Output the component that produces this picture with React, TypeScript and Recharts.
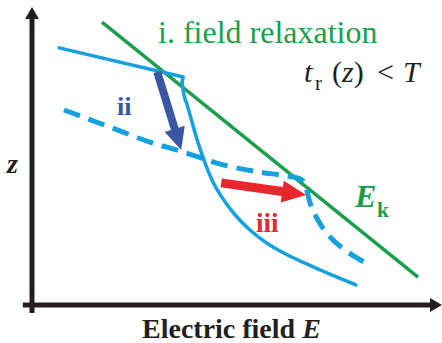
import { ComposedChart, Line, XAxis, YAxis, ReferenceLine } from 'recharts';

// units: E along x (0..10), z along y (0..10)
const GREEN = '#1a9f4b';
const BLUE = '#15a1dd';
const DARK_BLUE = '#3c56a6';
const RED = '#e8262d';
const BLACK = '#231f20';
const SERIF = '"Liberation Serif", "Times New Roman", serif';

// E_k line
const ekE = [1.75, 9.65];
const ekZ = [9.43, 0.93];

// solid profile: flat upper part with the small hook, then the relaxed drop
const upperE = [0.68, 3.78, 3.75];
const upperZ = [8.57, 7.6, 7.43];
const lowerE = [3.75, 3.8, 3.88, 4.0, 4.13, 4.3, 4.5, 4.78, 5.08, 5.45, 5.83, 6.2, 7.03, 8.1];
const lowerZ = [7.43, 7.0, 6.67, 6.1, 5.5, 4.83, 4.17, 3.53, 3.0, 2.5, 2.1, 1.8, 1.27, 0.67];

// dashed profile
const dashE = [0.8, 1.95, 2.95, 3.78, 4.78, 5.7, 6.38, 6.65, 6.78, 6.85, 6.93, 7.15, 7.45, 7.83, 8.3];
const dashZ = [6.5, 5.93, 5.43, 5.1, 4.67, 4.43, 4.3, 4.23, 4.13, 3.93, 3.5, 2.83, 2.27, 1.83, 1.43];

// arrows [tailE, tailZ, tipE, tipZ]
const arrowII = [3.13, 7.77, 3.73, 5.17];
const arrowIII = [4.73, 4.07, 6.85, 3.67];
const axisX = [-0.23, 0, 10.25, 0];
const axisY = [0, -0.27, 0, 9.93];

const zip = (es: number[], zs: number[]) => es.map((e, i) => ({ e, z: zs[i] }));

function arrowShape(color: string, shaft: number, headLen: number, headW: number) {
  return (p: any) => {
    const { x1, y1, x2, y2 } = p;
    const dx = x2 - x1;
    const dy = y2 - y1;
    const len = Math.hypot(dx, dy) || 1;
    const ux = dx / len;
    const uy = dy / len;
    const nx = -uy;
    const ny = ux;
    const bx = x2 - ux * headLen;
    const by = y2 - uy * headLen;
    const pts = [
      [x1 + (nx * shaft) / 2, y1 + (ny * shaft) / 2],
      [bx + (nx * shaft) / 2, by + (ny * shaft) / 2],
      [bx + (nx * headW) / 2, by + (ny * headW) / 2],
      [x2, y2],
      [bx - (nx * headW) / 2, by - (ny * headW) / 2],
      [bx - (nx * shaft) / 2, by - (ny * shaft) / 2],
      [x1 - (nx * shaft) / 2, y1 - (ny * shaft) / 2],
    ];
    return <polygon points={pts.map((q) => q.join(',')).join(' ')} fill={color} />;
  };
}

const seg = (a: number[]) => [
  { x: a[0], y: a[1] },
  { x: a[2], y: a[3] },
];

export default function App() {
  return (
    <div style={{ width: 442, height: 343, background: '#fff' }}>
      <style>{'body{margin:0}'}</style>
      <ComposedChart width={442} height={343} margin={{ top: 5, right: 10, bottom: 38, left: 32 }}>
        <XAxis type="number" dataKey="e" domain={[0, 10]} hide />
        <YAxis type="number" dataKey="z" domain={[0, 10]} hide />
        <ReferenceLine segment={seg(axisX)} ifOverflow="visible" shape={arrowShape(BLACK, 5, 12, 14)} />
        <ReferenceLine segment={seg(axisY)} ifOverflow="visible" shape={arrowShape(BLACK, 5, 12, 14)} />
        <Line data={zip(ekE, ekZ)} dataKey="z" type="linear" stroke={GREEN} strokeWidth={3.5} dot={false} activeDot={false} isAnimationActive={false} />
        <Line data={zip(upperE, upperZ)} dataKey="z" type="linear" stroke={BLUE} strokeWidth={3.5} strokeLinejoin="round" strokeLinecap="round" dot={false} activeDot={false} isAnimationActive={false} />
        <Line data={zip(lowerE, lowerZ)} dataKey="z" type="monotone" stroke={BLUE} strokeWidth={3.5} strokeLinecap="round" dot={false} activeDot={false} isAnimationActive={false} />
        <Line data={zip(dashE, dashZ)} dataKey="z" type="monotone" stroke={BLUE} strokeWidth={5} strokeDasharray="17 9" dot={false} activeDot={false} isAnimationActive={false} />
        <ReferenceLine segment={seg(arrowII)} ifOverflow="visible" shape={arrowShape(DARK_BLUE, 8, 22, 21)} />
        <ReferenceLine segment={seg(arrowIII)} ifOverflow="visible" shape={arrowShape(RED, 9, 24, 22)} />
        <text x={158} y={43} fontFamily={SERIF} fontSize={32} fill={GREEN}>i. field relaxation</text>
        <text y={82} fontFamily={SERIF} fontSize={30} fill={BLACK}>
          <tspan x={304} fontStyle="italic">t</tspan>
          <tspan x={315} y={90} fontSize={21}>r</tspan>
          <tspan x={332} y={82}>(</tspan>
          <tspan fontStyle="italic">z</tspan>
          <tspan>)</tspan>
          <tspan x={377}>&lt;</tspan>
          <tspan x={403} fontStyle="italic">T</tspan>
        </text>
        <text x={117} y={115} fontFamily={SERIF} fontSize={26} fontWeight="bold" fill={DARK_BLUE}>ii</text>
        <text x={256} y={232} fontFamily={SERIF} fontSize={27} fontWeight="bold" fill={RED}>iii</text>
        <text y={207} fontFamily={SERIF} fontWeight="bold" fill={GREEN}>
          <tspan x={355} fontSize={32} fontStyle="italic">E</tspan>
          <tspan x={377} y={217} fontSize={21}>k</tspan>
        </text>
        <text x={7} y={173} fontFamily={SERIF} fontSize={28} fontWeight="bold" fontStyle="italic" fill={BLACK}>z</text>
        <text x={142} y={338} fontFamily={SERIF} fontSize={28} fontWeight="bold" fill={BLACK}>
          Electric field <tspan fontStyle="italic">E</tspan>
        </text>
      </ComposedChart>
    </div>
  );
}
